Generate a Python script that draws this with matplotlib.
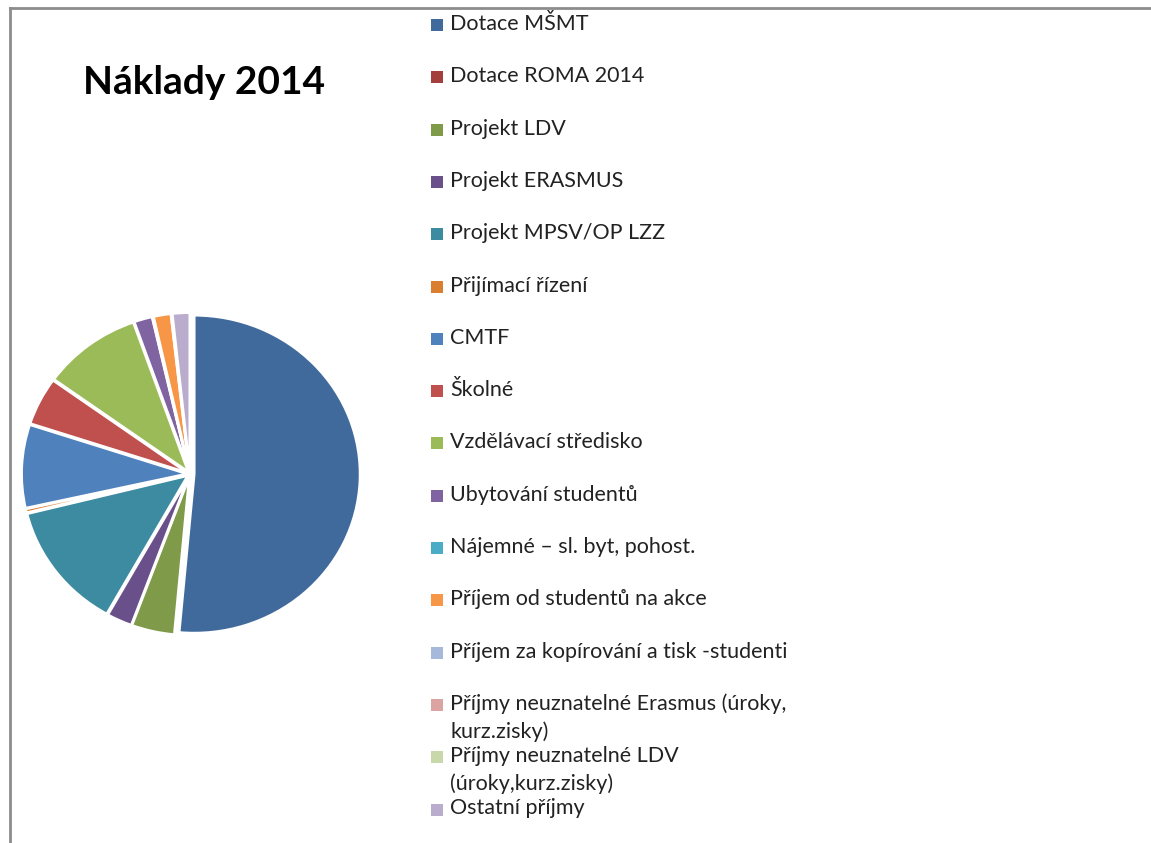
import matplotlib.pyplot as plt
from matplotlib.lines import Line2D
from matplotlib.patches import Rectangle

# Náklady 2014 - share of each source (percent)
labels = ['Dotace MŠMT', 'Dotace ROMA 2014', 'Projekt LDV', 'Projekt ERASMUS',
          'Projekt MPSV/OP LZZ', 'Přijímací řízení', 'CMTF', 'Školné',
          'Vzdělávací středisko', 'Ubytování studentů', 'Nájemné – sl. byt, pohost.',
          'Příjem od studentů na akce', 'Příjem za kopírování a tisk -studenti',
          'Příjmy neuznatelné Erasmus (úroky,\nkurz.zisky)',
          'Příjmy neuznatelné LDV\n(úroky,kurz.zisky)', 'Ostatní příjmy']
values = [51.5, 0.0, 4.2, 2.5, 13.0, 0.4, 8.5, 4.9, 9.7, 1.8, 0.1, 1.7, 0.1, 0.0, 0.0, 1.7]
colors = ['#416A9C', '#A3403D', '#7F9A48', '#69508A', '#3C8BA0', '#DA7E30',
          '#4F81BD', '#C0504D', '#9BBB59', '#8064A2', '#4BACC6', '#F79646',
          '#A7B9DA', '#DBA3A2', '#C9D8AA', '#B9ACCC']

W, H = 1151, 843
fig = plt.figure(figsize=(W / 100, H / 100), dpi=100)
plt.rcParams['font.family'] = ['Lato', 'DejaVu Sans']

# frame of the chart area
fig.add_artist(Line2D([10 / W, 10 / W], [0, 1 - 8 / H], color='#8C8C8C', lw=2))
fig.add_artist(Line2D([10 / W, 1], [1 - 8 / H, 1 - 8 / H], color='#8C8C8C', lw=2))

fig.text(204 / W, 1 - 82 / H, 'Náklady 2014', fontsize=28, fontweight='bold',
         ha='center', va='center', color='black')

# pie axes (center at 190, 474 px)
cx, cy, rx, ry = 190, 474, 166, 159
bw, bh = 360, 348
ax = fig.add_axes([(cx - bw / 2) / W, 1 - (cy + bh / 2) / H, bw / W, bh / H])
explode = [0.025] + [0.015] * (len(values) - 1)
ax.pie(values, colors=colors, startangle=90, counterclock=False, explode=explode,
       wedgeprops=dict(edgecolor='white', linewidth=2))
ax.set_aspect('auto')
ax.set_xlim(-bw / 2 / rx, bw / 2 / rx)
ax.set_ylim(-bh / 2 / ry, bh / 2 / ry)
ax.axis('off')

# legend
for i, (lab, col) in enumerate(zip(labels, colors)):
    y = 25 + 52.3 * i
    fig.add_artist(Rectangle((431 / W, 1 - (y + 6) / H), 12 / W, 12 / H,
                             facecolor=col, edgecolor='none'))
    fig.text(450 / W, 1 - (y - 11) / H, lab, fontsize=15.5, ha='left', va='top',
             color='#222222', linespacing=1.42)

fig.savefig('out.png', dpi=100, facecolor='white')
